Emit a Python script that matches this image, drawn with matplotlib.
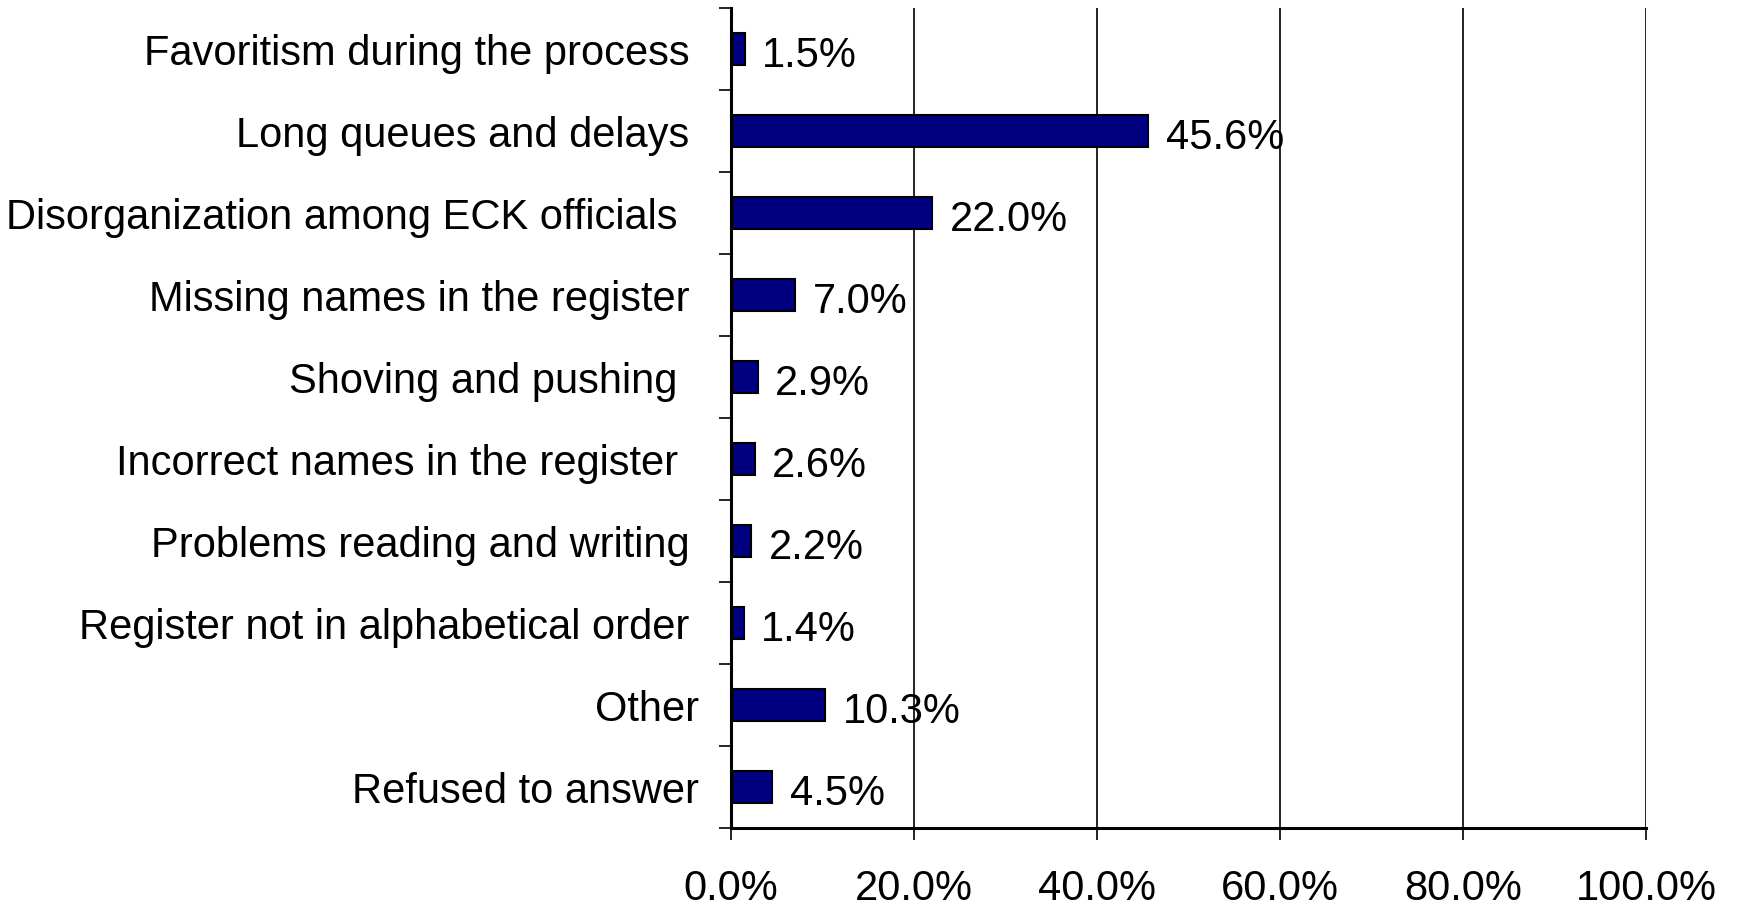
import numpy as np
import matplotlib.pyplot as plt
import matplotlib.transforms as mtransforms
from matplotlib.ticker import FixedLocator

# problems reported at the polling station
categories = ['Favoritism during the process',
              'Long queues and delays',
              'Disorganization among ECK officials ',
              'Missing names in the register',
              'Shoving and pushing ',
              'Incorrect names in the register ',
              'Problems reading and writing',
              'Register not in alphabetical order',
              'Other',
              'Refused to answer']
values = [1.5, 45.6, 22.0, 7.0, 2.9, 2.6, 2.2, 1.4, 10.3, 4.5]
xticks = [0, 20, 40, 60, 80, 100]

plt.rcParams['font.family'] = ['Liberation Sans', 'DejaVu Sans']

fig = plt.figure(figsize=(17.46, 9.10), dpi=100)
ax = fig.add_axes([0.4187, 0.0901, 0.5240, 0.9011])

y = np.arange(len(categories))
ax.barh(y, values, height=0.4, color='#000080', edgecolor='black', linewidth=1.5, zorder=3)

for yi, v in zip(y, values):
    ax.text(v + 1.9, yi + 0.09, '%.1f%%' % v, va='center', ha='left', fontsize=30)

ax.set_xlim(0, 100)
ax.set_ylim(len(categories) - 0.5, -0.5)

ax.set_xticks(xticks)
ax.set_xticklabels(['%.1f%%' % t for t in xticks], fontsize=30)
ax.xaxis.grid(True, color='black', linewidth=1.2, zorder=0)

ax.set_yticks(y)
ax.set_yticklabels(categories, fontsize=30)
ax.yaxis.set_minor_locator(FixedLocator(np.arange(-0.5, len(categories), 1.0)))
ax.tick_params(axis='y', which='major', length=0, pad=30)
ax.tick_params(axis='y', which='minor', length=8.6, width=1.2, direction='out')
ax.tick_params(axis='x', which='major', length=8.6, width=1.2, direction='out', pad=21)

# the last two labels sit a little closer to the axis
for lab in ax.get_yticklabels()[-2:]:
    lab.set_transform(lab.get_transform() +
                      mtransforms.ScaledTranslation(0.1, 0, fig.dpi_scale_trans))

for s in ['top', 'right']:
    ax.spines[s].set_visible(False)
for s in ['left', 'bottom']:
    ax.spines[s].set_linewidth(2.2)
    ax.spines[s].set_zorder(4)

fig.savefig('out.png', dpi=100)
